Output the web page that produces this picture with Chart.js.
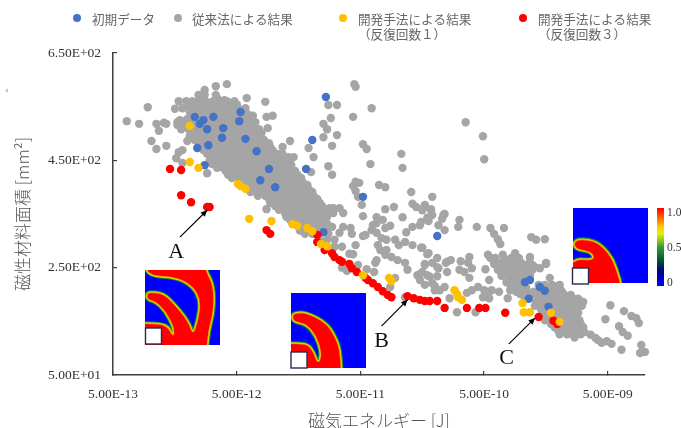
<!DOCTYPE html>
<html lang="ja"><head><meta charset="utf-8">
<script src="https://cdn.jsdelivr.net/npm/chart.js@4"></script>
<style>html,body{margin:0;padding:0;background:#fff}#wrap{width:681px;height:428px}canvas{display:block;filter:blur(0.45px)}</style>
</head><body><div id="wrap"><canvas id="c" width="681" height="428"></canvas></div>
<script>
// x = log10(energy in J), y = magnetic material area in mm2
const initialData = [[-10.58,568],[-11.27,540],[-11.64,531],[-11.57,525],[-11.60,518],[-11.49,531],[-11.28,523],[-11.54,508],[-11.41,510],[-11.42,492],[-11.23,490],[-11.53,478],[-11.62,473],[-11.14,467],[-10.69,488],[-11.56,441],[-11.04,434],[-10.74,434],[-11.11,413],[-10.99,400],[-10.28,382],[-10.60,316],[-9.68,309],[-8.97,223],[-8.93,227],[-8.85,214],[-8.81,207],[-8.94,192],[-8.78,177]];
const devIter1 = [[-11.68,514],[-11.68,447],[-11.61,436],[-11.29,406],[-11.27,402],[-11.23,397],[-11.20,341],[-11.02,337],[-10.85,331],[-10.81,328],[-10.73,324],[-10.69,318],[-10.62,294],[-10.57,290],[-10.28,236],[-10.07,231],[-10.05,225],[-9.54,208],[-9.52,201],[-9.51,195],[-9.48,190],[-8.99,184],[-8.98,167],[-8.93,167],[-8.76,166],[-8.69,149]];
const devIter3 = [[-11.84,434],[-11.75,432],[-11.75,385],[-11.67,372],[-11.54,363],[-11.52,363],[-11.06,320],[-11.03,313],[-10.65,311],[-10.65,298],[-10.59,283],[-10.53,277],[-10.51,270],[-10.47,264],[-10.45,261],[-10.39,257],[-10.37,249],[-10.33,242],[-10.26,231],[-10.24,227],[-10.20,221],[-10.16,214],[-10.12,206],[-10.08,199],[-10.05,195],[-9.92,197],[-9.87,193],[-9.82,190],[-9.78,188],[-9.74,188],[-9.68,188],[-9.62,175],[-9.44,175],[-9.34,175],[-9.29,175],[-9.13,166],[-8.86,158],[-8.74,151],[-8.71,145]];
const conventional = [
[-12.19,523],[-12.09,518],[-12.02,549],[-11.99,486],[-11.95,471],[-11.87,477],[-11.95,518],[-11.89,520],[-11.87,518],[-11.93,505],[-11.77,560],[-11.71,560],[-11.80,546],[-11.74,547],[-11.47,588],[-11.38,592],[-11.22,566],[-11.56,581],[-11.61,572],[-11.58,568],[-11.46,566],[-11.40,562],[-11.32,560],[-11.78,516],[-11.76,525],[-11.77,465],[-11.74,469],[-11.79,454],[-11.70,486],[-11.74,445],[-11.54,426],[-11.07,559],[-11.06,531],[-11.01,533],[-11.05,510],[-11.17,533],[-10.87,486],[-10.93,475],[-10.84,456],[-11.06,359],
[-11.56,572],[-11.47,572],
[-11.66,560],[-11.61,560],[-11.55,560],[-11.49,560],[-11.44,560],[-11.38,560],
[-11.70,554],[-11.64,554],[-11.58,554],[-11.52,554],[-11.47,554],[-11.41,554],[-11.35,554],[-11.30,554],
[-11.69,547],[-11.63,547],[-11.57,547],[-11.52,547],[-11.46,547],[-11.40,547],[-11.35,547],[-11.29,547],[-11.23,547],
[-11.68,540],[-11.62,540],[-11.56,540],[-11.50,540],[-11.44,540],[-11.39,540],[-11.33,540],[-11.27,540],[-11.23,540],
[-11.65,534],[-11.59,534],[-11.54,534],[-11.48,534],[-11.42,534],[-11.37,534],[-11.31,534],[-11.25,534],[-11.20,534],
[-11.70,527],[-11.64,527],[-11.58,527],[-11.53,527],[-11.47,527],[-11.41,527],[-11.36,527],[-11.30,527],[-11.24,527],[-11.19,527],
[-11.78,521],[-11.72,521],[-11.66,521],[-11.61,521],[-11.55,521],[-11.49,521],[-11.44,521],[-11.38,521],[-11.32,521],[-11.27,521],[-11.21,521],[-11.15,521],
[-11.74,514],[-11.68,514],[-11.63,514],[-11.57,514],[-11.51,514],[-11.46,514],[-11.40,514],[-11.34,514],[-11.29,514],[-11.23,514],[-11.17,514],
[-11.75,508],[-11.69,508],[-11.63,508],[-11.58,508],[-11.52,508],[-11.46,508],[-11.41,508],[-11.35,508],[-11.29,508],[-11.24,508],[-11.18,508],[-11.12,508],
[-11.65,501],[-11.59,501],[-11.54,501],[-11.48,501],[-11.42,501],[-11.37,501],[-11.31,501],[-11.25,501],[-11.20,501],[-11.14,501],[-11.10,501],
[-11.68,495],[-11.62,495],[-11.57,495],[-11.51,495],[-11.45,495],[-11.40,495],[-11.34,495],[-11.28,495],[-11.23,495],[-11.17,495],[-11.11,495],
[-11.64,488],[-11.59,488],[-11.53,488],[-11.48,488],[-11.42,488],[-11.36,488],[-11.31,488],[-11.25,488],[-11.19,488],[-11.14,488],[-11.08,488],
[-11.61,482],[-11.55,482],[-11.50,482],[-11.44,482],[-11.38,482],[-11.33,482],[-11.27,482],[-11.21,482],[-11.16,482],[-11.10,482],[-11.04,482],
[-11.58,475],[-11.53,475],[-11.47,475],[-11.41,475],[-11.36,475],[-11.30,475],[-11.24,475],[-11.19,475],[-11.13,475],[-11.07,475],[-11.03,475],
[-11.57,469],[-11.52,469],[-11.46,469],[-11.40,469],[-11.35,469],[-11.29,469],[-11.23,469],[-11.18,469],[-11.12,469],[-11.06,469],[-11.01,469],
[-11.54,462],[-11.48,462],[-11.43,462],[-11.37,462],[-11.31,462],[-11.26,462],[-11.20,462],[-11.14,462],[-11.09,462],[-11.03,462],[-10.97,462],[-10.93,462],
[-11.50,456],[-11.45,456],[-11.39,456],[-11.33,456],[-11.28,456],[-11.22,456],[-11.16,456],[-11.11,456],[-11.05,456],[-10.99,456],[-10.94,456],[-10.88,456],
[-11.52,449],[-11.47,449],[-11.41,449],[-11.36,449],[-11.30,449],[-11.24,449],[-11.19,449],[-11.13,449],[-11.07,449],[-11.02,449],[-10.96,449],[-10.91,449],[-10.87,449],
[-11.50,443],[-11.45,443],[-11.39,443],[-11.33,443],[-11.28,443],[-11.22,443],[-11.16,443],[-11.10,443],[-11.05,443],[-10.99,443],[-10.94,443],[-10.89,443],
[-11.46,436],[-11.41,436],[-11.35,436],[-11.30,436],[-11.24,436],[-11.18,436],[-11.13,436],[-11.07,436],[-11.01,436],[-10.96,436],[-10.90,436],[-10.87,436],
[-11.39,430],[-11.33,430],[-11.28,430],[-11.22,430],[-11.16,430],[-11.11,430],[-11.05,430],[-10.99,430],[-10.94,430],[-10.88,430],[-10.83,430],
[-11.37,423],[-11.31,423],[-11.26,423],[-11.20,423],[-11.14,423],[-11.09,423],[-11.03,423],[-10.97,423],[-10.92,423],[-10.86,423],[-10.81,423],
[-11.34,417],[-11.29,417],[-11.23,417],[-11.18,417],[-11.12,417],[-11.06,417],[-11.01,417],[-10.95,417],[-10.89,417],[-10.84,417],[-10.78,417],
[-11.28,410],[-11.22,410],[-11.16,410],[-11.11,410],[-11.05,410],[-10.99,410],[-10.94,410],[-10.88,410],[-10.82,410],[-10.77,410],
[-11.18,404],[-11.12,404],[-11.07,404],[-11.01,404],[-10.95,404],[-10.90,404],[-10.84,404],[-10.78,404],[-10.73,404],
[-11.17,397],[-11.11,397],[-11.06,397],[-11.00,397],[-10.94,397],[-10.89,397],[-10.83,397],[-10.77,397],[-10.72,397],
[-11.19,391],[-11.14,391],[-11.08,391],[-11.02,391],[-10.97,391],[-10.91,391],[-10.86,391],[-10.80,391],[-10.74,391],[-10.69,391],
[-11.13,384],[-11.07,384],[-11.01,384],[-10.96,384],[-10.90,384],[-10.84,384],[-10.79,384],[-10.73,384],[-10.68,384],
[-11.04,378],[-10.99,378],[-10.93,378],[-10.87,378],[-10.82,378],[-10.76,378],[-10.70,378],[-10.65,378],
[-11.03,371],[-10.97,371],[-10.91,371],[-10.86,371],[-10.80,371],[-10.74,371],[-10.69,371],[-10.63,371],
[-10.99,365],[-10.94,365],[-10.88,365],[-10.82,365],[-10.77,365],[-10.71,365],[-10.65,365],[-10.61,365],
[-10.96,358],[-10.90,358],[-10.85,358],[-10.79,358],[-10.73,358],[-10.68,358],[-10.62,358],
[-10.91,352],[-10.86,352],[-10.80,352],[-10.74,352],[-10.69,352],[-10.63,352],[-10.57,352],[-10.52,352],
[-10.90,345],[-10.84,345],[-10.79,345],[-10.73,345],[-10.67,345],[-10.62,345],[-10.57,345],
[-10.87,339],[-10.81,339],[-10.76,339],[-10.70,339],[-10.64,339],[-10.59,339],
[-10.85,332],[-10.79,332],[-10.73,332],[-10.68,332],[-10.62,332],[-10.57,332],
[-10.80,326],[-10.74,326],[-10.69,326],[-10.63,326],[-10.57,326],[-10.53,326],
[-10.79,319],[-10.73,319],[-10.68,319],[-10.62,319],[-10.57,319],
[-10.75,313],[-10.69,313],[-10.56,313],[-10.63,302],[-10.57,302],[-10.51,302],[-10.51,289],[-10.45,289],[-10.39,276],[-10.45,250],[-10.41,244],
[-10.35,592],[-10.34,587],[-10.21,547],[-10.36,531],[-9.45,521],[-9.31,495],[-9.30,452],[-10.28,480],[-10.25,471],[-9.97,462],[-10.22,443],[-9.96,436],[-10.34,410],[-10.31,408],[-10.36,402],[-10.34,393],[-10.32,382],[-10.29,367],[-10.15,404],[-10.10,400],[-9.89,391],[-9.72,382],[-10.10,359],[-10.03,363],[-9.88,369],[-9.85,363],[-9.78,365],[-9.80,359],[-9.73,359],[-9.62,350],
[-10.56,553],[-10.49,553],[-10.54,529],[-10.60,518],[-10.57,508],[-10.60,493],[-10.49,497],[-10.53,477],[-10.72,473],[-10.68,456],[-10.56,439],[-10.53,423],[-10.70,428],[-10.86,441],
[-10.47,361],[-10.44,352],[-10.28,346],[-10.17,344],[-10.12,339],[-10.06,328],[-10.17,333],[-10.21,320],[-10.26,311],[-10.17,315],[-10.13,305],[-10.16,292],[-10.09,283],[-10.02,302],[-9.94,298],[-9.93,316],[-9.88,326],[-9.81,335],[-9.76,343],[-9.81,287],[-10.05,270],[-10.00,264],[-9.94,259],[-9.92,246],[-9.84,236],[-9.78,255],[-9.76,236],[-10.44,326],[-10.38,324],[-10.37,313],[-10.47,315],[-10.34,292],[-10.36,275],[-10.17,264],[-10.18,259],[-10.32,255],[-10.25,247],[-10.19,242],[-10.02,231],[-10.06,214],[-10.52,361],[-10.55,361],[-10.60,354],[-10.28,309],[-10.20,329],[-10.10,324],[-10.09,302],[-10.14,283],[-10.10,274],[-9.96,344],[-9.88,292],[-9.99,292],[-9.76,275],[-9.68,251],[-9.60,261],[-9.82,238],[-9.70,216],
[-9.78,367],[-9.80,357],[-9.73,357],[-9.72,348],[-9.75,337],[-9.82,329],[-9.63,348],[-9.64,341],[-9.67,329],[-9.62,320],[-9.50,339],[-9.51,326],[-9.36,326],[-9.25,324],[-9.14,324],[-9.22,313],[-9.19,303],[-9.17,294],[-8.92,307],[-8.88,302],[-8.81,303],[-9.80,287],[-9.75,277],[-9.68,268],[-9.57,264],[-9.61,259],[-9.42,270],[-9.49,262],[-9.43,259],[-9.78,257],[-9.72,259],[-9.67,249],[-9.29,247],[-9.50,246],[-9.46,242],[-9.40,249],[-9.60,242],[-9.80,242],[-9.74,233],[-9.68,234],[-9.82,227],[-9.42,231],[-9.26,227],[-9.78,218],[-9.72,221],[-9.62,214],[-9.70,208],[-9.66,208],[-9.35,214],[-9.40,208],[-9.44,203],[-9.30,208],[-9.24,208],[-9.18,205],[-9.27,199],[-9.31,195],[-9.26,193],[-9.58,193],[-9.11,193],[-9.52,167],[-9.37,167],[-9.09,208],[-9.04,205],[-9.94,195],
[-9.27,274],[-9.21,268],[-9.15,274],[-9.05,277],[-8.93,270],[-8.80,257],[-8.89,251],[-9.01,261],[-8.91,255],[-8.95,246],[-9.04,236],[-9.09,218],[-9.19,259],[-9.14,261],[-9.08,264],[-9.15,249],[-9.09,251],[-9.04,253],[-8.98,253],[-9.11,240],[-9.05,244],[-9.00,242],[-9.08,231],[-8.93,236],[-8.93,268],[-8.91,246],[-8.85,249],[-8.80,259],
[-9.25,268],[-9.14,268],[-9.08,268],[-9.02,268],[-9.22,257],[-9.16,257],[-9.11,257],[-9.05,257],[-8.99,257],[-8.94,257],[-9.19,246],[-9.13,246],[-9.07,246],[-9.02,246],[-9.16,235],[-9.10,235],[-8.98,235],[-9.12,223],[-9.06,223],[-9.01,223],[-8.96,212],[-9.07,212],[-9.02,212],[-9.01,201],[-8.95,201],[-8.90,201],
[-8.77,231],[-8.86,218],[-8.81,218],[-8.75,218],[-8.69,218],
[-8.84,212],[-8.78,212],[-8.73,212],[-8.69,212],
[-9.01,205],[-8.96,205],[-8.90,205],[-8.84,205],[-8.79,205],[-8.73,205],[-8.67,205],
[-8.94,199],[-8.88,199],[-8.82,199],[-8.76,199],[-8.71,199],[-8.65,199],[-8.60,199],
[-8.97,192],[-8.86,192],[-8.81,192],[-8.75,192],[-8.69,192],[-8.64,192],[-8.58,192],[-8.54,192],
[-8.88,186],[-8.82,186],[-8.77,186],[-8.71,186],[-8.65,186],[-8.59,186],[-8.54,186],[-8.50,186],
[-8.89,179],[-8.85,179],[-8.80,179],[-8.74,179],[-8.68,179],[-8.62,179],[-8.57,179],[-8.51,179],
[-8.84,172],[-8.78,172],[-8.72,172],[-8.66,172],[-8.60,172],[-8.55,172],
[-8.82,166],[-8.77,166],[-8.71,166],[-8.65,166],[-8.59,166],[-8.54,166],
[-8.80,159],[-8.74,159],[-8.68,159],[-8.62,159],[-8.56,159],
[-8.81,152],[-8.76,152],[-8.70,152],[-8.64,152],[-8.58,152],[-8.53,152],
[-8.76,145],[-8.70,145],[-8.64,145],[-8.58,145],[-8.52,145],
[-8.73,139],[-8.67,139],[-8.61,139],[-8.55,139],[-8.50,139],
[-8.70,132],[-8.65,132],[-8.59,132],[-8.53,132],
[-8.69,126],[-8.63,126],[-8.58,126],[-8.52,126],[-8.57,120],
[-8.44,125],[-8.40,119],[-8.35,110],[-8.27,108],[-8.19,97],[-8.38,115],[-8.31,113],[-8.49,130],[-8.28,180],[-8.17,169],[-8.11,160],[-8.05,147],[-8.07,156],[-8.32,154],[-8.21,141],[-8.18,130],[-8.14,123],[-8.03,106],[-8.00,93],[-8.04,91]
];
const xTickValues = [5e-13, 5e-12, 5e-11, 5e-10, 5e-9];
const xTickLabels = ['5.00E-13','5.00E-12','5.00E-11','5.00E-10','5.00E-09'];
const yTickValues = [50, 250, 450, 650];
const yTickLabels = ['5.00E+01','2.50E+02','4.50E+02','6.50E+02'];
const xTitle = '磁気エネルギー [J]';
const yTitle = '磁性材料面積 [mm²]';
const seriesNames = [['初期データ'],['従来法による結果'],['開発手法による結果','（反復回数１）'],['開発手法による結果','（反復回数３）']];
const seriesColors = ['#4472C4','#A5A5A5','#FFC000','#FF0000'];
const callouts = [['A',-11.76,307,-11.54,357,-11.79,279],['B',-10.13,141,-9.92,190,-10.13,113],['C',-9.10,108,-8.89,156,-9.12,82]];
const colorbarLabels = ['1.0','0.5','0'];

const toPts = a => a.map(p => ({x: Math.pow(10, p[0]), y: p[1]}));
const ds = (i, data, order) => ({label: seriesNames[i].join(''), data: toPts(data), backgroundColor: seriesColors[i], borderWidth: 0, pointRadius: 4.2, pointHoverRadius: 4.2, order, clip: false});

const shapes = [
 {box:[145,270,75], hole:[145.5,328,16], pts:[[0.02,-0.1],[0.8,-0.1],[0.8,0],[0.91,0.21],[0.91,0.55],[0.84,0.81],[0.81,1.15],[-0.15,1.15],[-0.15,0.72],[0.2,0.72],[0.31,0.77],[0.35,0.86],[0.39,0.88],[0.39,0.76],[0.28,0.55],[0.15,0.42],[0.04,0.39],[0.03,0.33],[0.06,0.30],[0.24,0.32],[0.37,0.44],[0.57,0.68],[0.64,0.88],[0.71,0.68],[0.75,0.41],[0.64,0.21],[0.42,0.09],[0.04,0.07]]},
 {box:[291,293,75], hole:[291,352,16], pts:[[0.02,0.32],[0.05,0.27],[0.21,0.27],[0.48,0.41],[0.61,0.64],[0.65,0.8],[0.67,1.15],[-0.15,1.15],[-0.15,0.68],[0.12,0.68],[0.23,0.7],[0.30,0.8],[0.34,0.92],[0.39,0.92],[0.41,0.78],[0.34,0.57],[0.21,0.41],[0.05,0.38]]},
 {box:[573,208,75], hole:[572.5,268,16], pts:[[0.02,0.46],[0.09,0.42],[0.31,0.45],[0.47,0.6],[0.56,0.77],[0.67,1.15],[-0.15,1.15],[-0.15,0.8],[0.02,0.72],[0.07,0.69],[0.24,0.7],[0.29,0.66],[0.24,0.58],[0.09,0.55],[0.03,0.52]]}
];
function blob(ctx, b, pts){
  const P = pts.map(p => [b[0]+p[0]*b[2], b[1]+p[1]*b[2]]);
  ctx.beginPath();
  const n = P.length, m = (a,c)=>[(a[0]+c[0])/2,(a[1]+c[1])/2];
  let s = m(P[n-1],P[0]); ctx.moveTo(s[0],s[1]);
  for(let i=0;i<n;i++){ const e = m(P[i],P[(i+1)%n]); ctx.quadraticCurveTo(P[i][0],P[i][1],e[0],e[1]); }
  ctx.closePath();
}
const overlay = {
  id:'overlay',
  afterDatasetsDraw(chart){
    const ctx = chart.ctx, X = chart.scales.x, Y = chart.scales.y;
    ctx.save();
    // legend
    const markX = [77,178,343,523], textX = [92,192,358,538];
    ctx.textBaseline='middle'; ctx.textAlign='left';
    ctx.font='12.6px "Noto Sans CJK JP"'; ctx.fillStyle='#666';
    seriesNames.forEach((lines,i)=>{
      ctx.beginPath(); ctx.arc(markX[i],18,4,0,Math.PI*2); ctx.save(); ctx.fillStyle=seriesColors[i]; ctx.fill(); ctx.restore();
      lines.forEach((t,j)=>ctx.fillText(t,textX[i],19+j*15));
    });
    ctx.font='9px "DejaVu Sans"'; ctx.fillStyle='#777'; ctx.fillText('‹',5,91);
    // insets
    shapes.forEach(s=>{
      const [x,y,w]=s.box;
      ctx.save(); ctx.beginPath(); ctx.rect(x,y,w,w); ctx.clip();
      ctx.fillStyle='#0000FF'; ctx.fillRect(x,y,w,w);
      ctx.lineJoin='round';
      [['#168a3a',5.6],['#cfe000',3.4],['#ff9a00',1.6]].forEach(l=>{blob(ctx,s.box,s.pts);ctx.strokeStyle=l[0];ctx.lineWidth=l[1];ctx.stroke();});
      blob(ctx,s.box,s.pts); ctx.fillStyle='#FF0000'; ctx.fill();
      ctx.restore();
      ctx.fillStyle='#fff'; ctx.strokeStyle='#2a2a50'; ctx.lineWidth=1.4;
      ctx.fillRect(s.hole[0],s.hole[1],s.hole[2],s.hole[2]); ctx.strokeRect(s.hole[0],s.hole[1],s.hole[2],s.hole[2]);
    });
    // colour bar
    const g = ctx.createLinearGradient(0,208,0,286);
    [[0,'#ff0000'],[0.1,'#ff5000'],[0.25,'#ffd000'],[0.33,'#e8f000'],[0.5,'#30a030'],[0.68,'#005030'],[0.8,'#000080'],[1,'#0000ff']].forEach(c=>g.addColorStop(c[0],c[1]));
    ctx.fillStyle=g; ctx.fillRect(657,208,7,78);
    ctx.fillStyle='#333'; ctx.font='11.5px "Liberation Serif"';
    colorbarLabels.forEach((t,i)=>ctx.fillText(t,667,[213,248,283][i]));
    // callouts
    ctx.strokeStyle='#000'; ctx.fillStyle='#000'; ctx.lineWidth=1.2;
    callouts.forEach(c=>{
      const x1=X.getPixelForValue(10**c[1]), y1=Y.getPixelForValue(c[2]), x2=X.getPixelForValue(10**c[3]), y2=Y.getPixelForValue(c[4]);
      const a=Math.atan2(y2-y1,x2-x1);
      ctx.beginPath(); ctx.moveTo(x1,y1); ctx.lineTo(x2,y2); ctx.stroke();
      ctx.beginPath(); ctx.moveTo(x2,y2); ctx.lineTo(x2-7*Math.cos(a-0.45),y2-7*Math.sin(a-0.45)); ctx.lineTo(x2-7*Math.cos(a+0.45),y2-7*Math.sin(a+0.45)); ctx.closePath(); ctx.fill();
      ctx.font='22px "Liberation Serif"'; ctx.textAlign='center'; ctx.fillStyle='#111';
      ctx.fillText(c[0],X.getPixelForValue(10**c[5]),Y.getPixelForValue(c[6]));
      ctx.fillStyle='#000'; ctx.textAlign='left';
    });
    ctx.restore();
  }
};
const axisColor='#404040', tickFont={family:'"Liberation Serif"',size:13.5}, titleFont={family:'"Noto Sans CJK JP"',size:17,weight:'300'};
new Chart(document.getElementById('c'),{
  type:'scatter',
  data:{datasets:[ds(0,initialData,2),ds(1,conventional,3),ds(2,devIter1,0),ds(3,devIter3,1)]},
  plugins:[overlay],
  options:{
    responsive:false, animation:false, events:[],
    layout:{padding:{top:53,right:36,left:0,bottom:0}},
    plugins:{legend:{display:false},tooltip:{enabled:false}},
    scales:{
      x:{type:'logarithmic',min:5e-13,max:1e-8,
        afterBuildTicks(s){s.ticks=xTickValues.map(v=>({value:v,major:true}));},
        afterFit(s){s.height=53;},
        border:{color:axisColor,width:1.5},
        grid:{drawOnChartArea:false,color:axisColor,lineWidth:1.2,tickLength:-4},
        ticks:{padding:15,color:'#333',font:tickFont,autoSkip:false,maxRotation:0,callback:(v,i)=>xTickLabels[i]},
        title:{display:true,text:xTitle,color:'#555',font:titleFont,padding:{top:0,bottom:-3}}},
      y:{min:50,max:650,
        afterBuildTicks(s){s.ticks=yTickValues.map(v=>({value:v}));},
        afterFit(s){s.width=113;},
        border:{color:axisColor,width:1.5},
        grid:{drawOnChartArea:false,color:axisColor,lineWidth:1.2,tickLength:-4},
        ticks:{padding:16,color:'#333',font:tickFont,autoSkip:false,callback:(v,i)=>yTickLabels[i]},
        title:{display:true,text:yTitle,color:'#555',font:titleFont,padding:{top:12,bottom:0}}}
    }
  }
});
</script></body></html>
